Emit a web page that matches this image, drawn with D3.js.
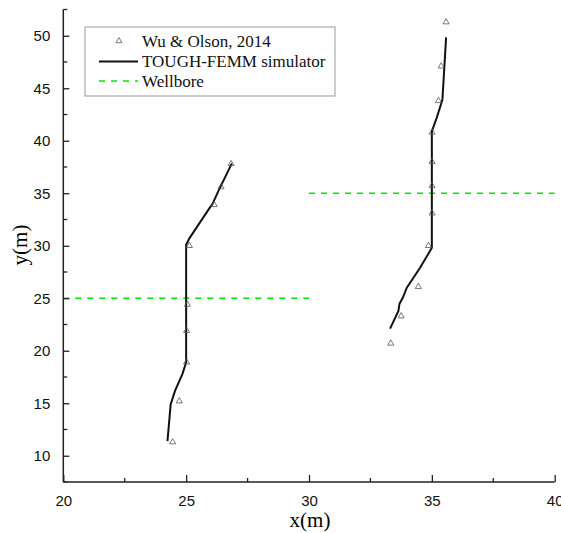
<!DOCTYPE html>
<html><head><meta charset="utf-8">
<script src="https://cdn.jsdelivr.net/npm/d3@7"></script>
<style>body{margin:0;background:#fff}</style>
</head><body>
<svg id="c" width="561" height="533"></svg>
<script>
// Wu & Olson, 2014 (triangles)
const wuLeft = [[26.83,37.8],[26.42,35.6],[26.14,33.9],[25.13,30.0],[25.05,24.4],[25.02,21.9],[25.02,18.9],[24.72,15.2],[24.45,11.3]];
const wuRight = [[35.58,51.3],[35.38,47.1],[35.27,43.8],[35.01,40.8],[35.01,38.0],[35.01,35.7],[35.01,33.1],[34.86,30.0],[34.45,26.1],[33.75,23.3],[33.33,20.7]];
// TOUGH-FEMM simulator (lines)
const simLeft = [[24.24,11.4],[24.37,14.9],[24.55,16.2],[24.85,17.8],[25.0,18.9],[25.0,30.1],[25.13,30.7],[25.97,33.65],[26.07,33.97],[26.31,35.2],[26.86,37.85]];
const simRight = [[33.3,22.1],[33.64,23.8],[33.68,24.45],[33.82,25.07],[33.98,26.0],[34.52,27.9],[35.0,29.8],[35.0,40.9],[35.2,42.2],[35.43,43.9],[35.58,49.85]];
// Wellbore
const wellLeft = [[20,25],[30,25]];
const wellRight = [[30,35],[40,35]];
const xTicks = [20,25,30,35,40];
const yTicks = [10,15,20,25,30,35,40,45,50];
const legendLabels = ["Wu & Olson, 2014","TOUGH-FEMM simulator","Wellbore"];

const svg = d3.select("#c");
const x = d3.scaleLinear().domain([20,40]).range([63.3,554.7]);
const y = d3.scaleLinear().domain([7.5,52.5]).range([482,9.5]);
const green = "#00e600";

const line = d3.line().x(d=>x(d[0])).y(d=>y(d[1]));

// wellbore
[wellLeft, wellRight].forEach(w=>{
  svg.append("path").attr("d", line(w)).attr("fill","none").attr("stroke",green)
    .attr("stroke-width",1.6).attr("stroke-dasharray","6,6");
});
// simulator lines
[simLeft, simRight].forEach(s=>{
  svg.append("path").attr("d", line(s)).attr("fill","none").attr("stroke","#111")
    .attr("stroke-width",2).attr("stroke-linejoin","round");
});
// triangles
const tri = d3.symbol().type(d3.symbolTriangle).size(16);
[wuLeft, wuRight].forEach(p=>{
  svg.append("g").selectAll("path").data(p).join("path")
    .attr("d", tri).attr("transform", d=>`translate(${x(d[0])},${y(d[1])})`)
    .attr("fill","none").attr("stroke","#555").attr("stroke-width",0.8);
});

// axes
const xAxis = d3.axisBottom(x).tickValues(xTicks).tickSizeInner(-7).tickSizeOuter(0).tickPadding(13);
const gx = svg.append("g").attr("transform","translate(0,482)").call(xAxis);
const yAxis = d3.axisLeft(y).tickValues(yTicks).tickSizeInner(-6).tickSizeOuter(0).tickPadding(13);
const gy = svg.append("g").attr("transform","translate(63.3,0)").call(yAxis);
[gx,gy].forEach(g=>{
  g.select(".domain").attr("stroke","#222").attr("stroke-width",1.5);
  g.selectAll(".tick line").attr("stroke","#222").attr("stroke-width",1.3);
  g.selectAll(".tick text").attr("font-family","Liberation Sans, Arial, sans-serif").attr("font-size",15).attr("fill","#111");
});
gy.select(".domain").attr("d", `M0,${y(52.5)}V482`);
gx.select(".domain").attr("d", `M0,0H${x(40)}`).attr("transform",null);
gx.select(".domain").attr("d", `M63.3,0H554.7`);
// minor ticks
const xMinor = [22.5,27.5,32.5,37.5];
const yMinor = [7.5,12.5,17.5,22.5,27.5,32.5,37.5,42.5,47.5,52.5];
svg.append("g").selectAll("line").data(xMinor).join("line")
  .attr("x1",d=>x(d)).attr("x2",d=>x(d)).attr("y1",482).attr("y2",478)
  .attr("stroke","#222").attr("stroke-width",1.3);
svg.append("g").selectAll("line").data(yMinor).join("line")
  .attr("x1",63.3).attr("x2",67.3).attr("y1",d=>y(d)).attr("y2",d=>y(d))
  .attr("stroke","#222").attr("stroke-width",1.3);

// titles
svg.append("text").attr("x",310).attr("y",527).attr("text-anchor","middle")
  .attr("font-family","Liberation Serif, Times New Roman, serif").attr("font-size",21).text("x(m)");
svg.append("text").attr("transform","translate(27,245) rotate(-90)").attr("text-anchor","middle")
  .attr("font-family","Liberation Serif, Times New Roman, serif").attr("font-size",21).text("y(m)");

// legend
const lg = svg.append("g");
lg.append("rect").attr("x",85).attr("y",27).attr("width",250).attr("height",69)
  .attr("fill","#fff").attr("stroke","#999").attr("stroke-width",1);
const rows = [41,61.5,81];
lg.append("path").attr("d",tri).attr("transform",`translate(119,${rows[0]})`)
  .attr("fill","none").attr("stroke","#555").attr("stroke-width",0.8);
lg.append("line").attr("x1",99).attr("x2",138).attr("y1",rows[1]).attr("y2",rows[1])
  .attr("stroke","#111").attr("stroke-width",2);
lg.append("line").attr("x1",99).attr("x2",138).attr("y1",rows[2]).attr("y2",rows[2])
  .attr("stroke",green).attr("stroke-width",1.6).attr("stroke-dasharray","6,6");
legendLabels.forEach((t,i)=>{
  lg.append("text").attr("x",142).attr("y",rows[i]+5.5)
    .attr("font-family","Liberation Serif, Times New Roman, serif").attr("font-size",17).attr("fill","#111").text(t);
});
</script>
</body></html>
